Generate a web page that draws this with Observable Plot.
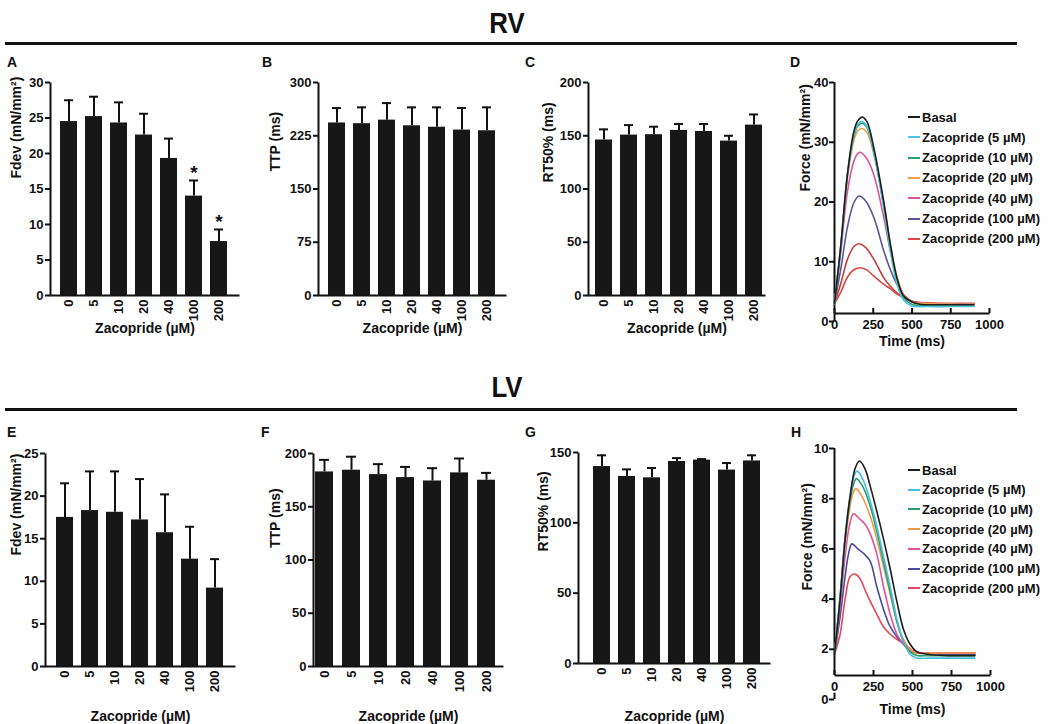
<!DOCTYPE html>
<html><head><meta charset="utf-8">
<script src="https://cdn.jsdelivr.net/npm/d3@7"></script>
<script src="https://cdn.jsdelivr.net/npm/@observablehq/plot@0.6"></script>
<style>
body{margin:0;background:#fff;}
#fig{position:relative;width:1050px;height:724px;overflow:hidden;font-family:"Liberation Sans",Arial,sans-serif;color:#111;background:#fff;}
.title{position:absolute;font-family:"Liberation Sans Narrow","Liberation Sans",Arial,sans-serif;font-weight:bold;font-size:30px;line-height:1;transform:translateX(-50%) scaleX(0.86);}
.hr{position:absolute;left:5px;width:1012px;height:3px;background:#111;}
.letter{position:absolute;font-weight:bold;font-size:14px;line-height:1;}
.panel{position:absolute;}
.panel svg{overflow:visible;max-width:none;}
.legend{position:absolute;font-weight:bold;font-size:13px;line-height:1;}
.legend .row{position:absolute;left:0;white-space:nowrap;display:flex;align-items:center;height:14px;}
.legend .sw{display:inline-block;width:12px;height:2px;margin-right:2px;}
</style></head>
<body>
<div id="fig">
  <div class="title" style="left:507px;top:8px">RV</div>
  <div class="hr" style="top:42px"></div>
  <div class="title" style="left:507px;top:372px">LV</div>
  <div class="hr" style="top:408px"></div>
  <div class="letter" style="left:7px;top:55px">A</div>
  <div class="letter" style="left:262px;top:55px">B</div>
  <div class="letter" style="left:525px;top:55px">C</div>
  <div class="letter" style="left:790px;top:55px">D</div>
  <div class="letter" style="left:7px;top:425px">E</div>
  <div class="letter" style="left:261px;top:425px">F</div>
  <div class="letter" style="left:525px;top:425px">G</div>
  <div class="letter" style="left:791px;top:425px">H</div>
</div>
<script>
// ---------- data ----------
const doses = ["0","5","10","20","40","100","200"];
const rvFdevMean = [24.5,25.2,24.3,22.6,19.3,14.0,7.6];
const rvFdevSem  = [3.0,2.8,2.9,3.0,2.8,2.2,1.7];
const rvFdevSig  = ["","","","","","*","*"];
const rvTtpMean  = [243,242,247,239,237,233,232];
const rvTtpSem   = [21,23,24,26,28,31,33];
const rvRt50Mean = [146,150.6,151,155,154,145,160];
const rvRt50Sem  = [10,9.4,7.5,6,7,5,10];
const lvFdevMean = [17.5,18.3,18.1,17.2,15.7,12.6,9.2];
const lvFdevSem  = [4.0,4.6,4.8,4.8,4.5,3.8,3.4];
const lvTtpMean  = [182.7,184.3,180.2,177.4,174.2,181.8,174.9];
const lvTtpSem   = [11.3,12.7,9.8,10,12,13.5,6.9];
const lvRt50Mean = [140,133,132,143.6,144.6,137.5,144];
const lvRt50Sem  = [8,5,7,2.4,0.7,5,4];

const rvFdevTicks = [0,5,10,15,20,25,30];
const rvTtpTicks = [0,75,150,225,300];
const rvRt50Ticks = [0,50,100,150,200];
const rvForceTicks = [0,10,20,30,40];
const lvFdevTicks = [0,5,10,15,20,25];
const lvTtpTicks = [0,50,100,150,200];
const lvRt50Ticks = [0,50,100,150];
const lvForceTicks = [0,2,4,6,8,10];
const timeTicks = [0,250,500,750,1000];

const seriesNames = ["Basal","Zacopride (5 µM)","Zacopride (10 µM)","Zacopride (20 µM)","Zacopride (40 µM)","Zacopride (100 µM)","Zacopride (200 µM)"];
const rvColors = ["#1e1e1e","#4cc6de","#2f9e78","#f0a04b","#d9569c","#5b5496","#d84a44","#c43c3c"];
const lvColors = ["#1e1e1e","#42bfe3","#2d9a6a","#f29a46","#e0529a","#4b4a9c","#e24a5c"];

// RV force traces [time ms, force mN/mm2]
const rvBasal = [[0,3],[40,12.5],[85,25],[125,31.8],[150,33.6],[180,34.2],[210,33.4],[254,29],[318,20],[360,13],[403,7.3],[445,4.3],[498,3.3],[550,2.9],[650,2.8],[750,2.8],[900,2.8]];
const rvZ5    = [[0,3],[40,12.5],[85,25],[125,31.3],[150,33],[175,33.5],[210,32.6],[254,28.3],[318,19],[360,11.8],[403,6.3],[445,3.6],[498,2.6],[600,2.5],[750,2.5],[900,2.5]];
const rvZ10   = [[0,3],[40,12.5],[85,24.8],[125,31],[150,32.7],[178,33.2],[210,32.4],[254,28.3],[318,19.3],[360,12.3],[403,6.8],[445,4],[498,2.9],[600,2.6],[750,2.6],[900,2.6]];
const rvZ20   = [[0,3],[40,12.2],[85,24.2],[125,30.3],[150,31.9],[178,32.3],[210,31.6],[254,28],[318,19.8],[360,13],[403,7.5],[445,4.5],[498,3.3],[600,3],[750,2.9],[900,2.9]];
const rvZ40   = [[0,3],[42,12],[85,22],[127,27],[150,28.1],[170,28.3],[210,27.2],[254,24.5],[318,17.4],[360,11.8],[403,7.3],[445,4.5],[498,3.3],[600,3],[750,2.9],[900,2.9]];
const rvZ100  = [[0,3],[42,9],[85,16],[127,20],[159,21],[200,20.2],[254,17.4],[318,11.8],[360,8.7],[403,6.2],[445,4.5],[498,3.4],[600,3],[750,2.9],[900,2.9]];
const rvZ200  = [[0,3],[42,5],[85,7.5],[127,8.7],[170,9],[210,8.6],[254,7.6],[318,6.2],[360,5.5],[403,4.6],[455,3.9],[508,3.3],[600,3.1],[750,3],[900,3]];
const rvZ200b = [[0,3],[42,6.5],[85,10.5],[127,12.6],[159,13],[200,12.4],[254,10.4],[318,7.3],[360,5.9],[403,4.8],[445,4],[508,3.3],[600,3.1],[750,3],[900,3]];

// LV force traces
const lvBasal = [[0,1.8],[36,4],[68,6.4],[100,8.1],[132,9.2],[160,9.5],[195,9.2],[229,8.5],[271,7.5],[314,6.4],[357,5.2],[400,3.9],[442,2.8],[485,2.2],[528,1.9],[600,1.8],[700,1.75],[800,1.75],[900,1.75]];
const lvZ5    = [[0,1.8],[36,4.1],[68,6.5],[100,8.1],[125,8.9],[145,9.1],[180,8.8],[229,7.9],[271,6.9],[314,5.7],[357,4.5],[400,3.2],[442,2.3],[485,1.8],[528,1.65],[600,1.65],[700,1.65],[800,1.65],[900,1.65]];
const lvZ10   = [[0,1.8],[36,4.1],[68,6.4],[100,7.95],[125,8.65],[140,8.8],[180,8.5],[229,7.7],[271,6.7],[314,5.5],[357,4.3],[400,3.1],[442,2.3],[485,1.9],[528,1.75],[600,1.75],[700,1.75],[800,1.75],[900,1.75]];
const lvZ20   = [[0,1.8],[36,4.0],[68,6.2],[100,7.7],[120,8.25],[137,8.4],[175,8.1],[229,7.3],[271,6.4],[314,5.3],[357,4.2],[400,3.1],[442,2.4],[485,2.0],[528,1.85],[600,1.85],[700,1.85],[800,1.85],[900,1.85]];
const lvZ40   = [[0,1.8],[36,3.7],[68,5.7],[95,6.9],[122,7.4],[160,7.2],[200,6.95],[229,6.6],[271,5.8],[314,4.5],[357,3.4],[400,2.6],[442,2.2],[485,1.95],[528,1.85],[600,1.85],[700,1.85],[800,1.85],[900,1.85]];
const lvZ100  = [[0,1.8],[36,3.3],[68,4.9],[90,5.8],[111,6.2],[150,6.0],[190,5.8],[229,5.5],[271,4.5],[314,3.6],[357,2.9],[400,2.5],[442,2.2],[485,1.95],[528,1.85],[600,1.85],[700,1.8],[800,1.8],[900,1.8]];
const lvZ200  = [[0,1.8],[36,2.6],[68,4.0],[100,4.9],[130,5.0],[160,4.85],[207,4.2],[271,3.4],[314,2.9],[357,2.6],[400,2.4],[453,2.2],[500,1.95],[550,1.85],[600,1.85],[700,1.85],[800,1.85],[900,1.85]];

// ---------- layout ----------
const FONT = '"Liberation Sans", Arial, sans-serif';
const L = {
  A:{left:0,top:70,w:250,h:275,mL:50,mR:11,mT:12,mB:50,b0:57.7,b1:229.5,ylx:-34,yly:-10.5,xly:33},
  B:{left:260,top:70,w:255,h:275,mL:58,mR:9,mT:12,mB:50,b0:65.7,b1:237,ylx:-43,yly:-17.5,xly:33},
  C:{left:520,top:70,w:255,h:275,mL:68,mR:10,mT:12,mB:50,b0:75,b1:242.7,ylx:-40,yly:-6.5,xly:33},
  E:{left:0,top:440,w:245,h:284,mL:45,mR:10,mT:13,mB:58,b0:53.3,b1:226,ylx:-28.5,yly:-4.5,xly:50},
  F:{left:260,top:440,w:250,h:284,mL:53,mR:7,mT:13,mB:58,b0:54.3,b1:236,ylx:-37.5,yly:-12,xly:50},
  G:{left:520,top:440,w:260,h:284,mL:58,mR:10,mT:12,mB:61,b0:71,b1:242.3,ylx:-34.5,yly:-6.5,xly:53},
  D:{left:780,top:70,w:230,h:285,mL:54,mR:21,mT:12,mB:42,y0:251,ylx:-29,yly:-6.5,xly:28,brk:false},
  H:{left:780,top:436,w:230,h:288,mL:54,mR:20,mT:12,mB:49,y0:263,ylx:-27,yly:28.5,xly:34,brk:true}
};
const fig = document.getElementById("fig");
function place(svg, c){
  const d = document.createElement("div");
  d.className = "panel";
  d.style.left = c.left+"px"; d.style.top = c.top+"px"; d.style.width = c.w+"px"; d.style.height = c.h+"px";
  d.appendChild(svg); fig.appendChild(d);
}
function baseStyle(){ return {fontFamily: FONT, fontWeight: "bold", fontSize: "13px", color: "#111", background: "transparent", overflow: "visible"}; }

function barPanel(c, means, sems, sig, ticks, ylabel){
  const data = doses.map((d,i)=>({c:d, m:means[i], hi:means[i]+sems[i], s: sig ? sig[i] : ""}));
  const fw = c.w-c.mL-c.mR, fh = c.h-c.mT-c.mB;
  const ymax = ticks[ticks.length-1];
  const svg = Plot.plot({
    width:c.w, height:c.h, marginLeft:c.mL, marginRight:c.mR, marginTop:c.mT, marginBottom:c.mB,
    style: baseStyle(),
    x:{type:"band", domain:doses, range:[c.b0,c.b1], paddingInner:0.33, paddingOuter:0, axis:null},
    y:{domain:[0,ymax], axis:null},
    marks:[
      Plot.ruleX(data,{x:"c", y1:"m", y2:"hi", stroke:"#111", strokeWidth:2}),
      Plot.tickY(data,{x:"c", y:"hi", stroke:"#111", strokeWidth:2, insetLeft:4, insetRight:4}),
      Plot.barY(data,{x:"c", y:"m", fill:"#171717"}),
      Plot.text(data,{x:"c", y:"hi", text:"s", lineAnchor:"bottom", dy:-1, fontSize:19, fill:"#111"}),
      Plot.frame({stroke:"#111", strokeWidth:2, strokeDasharray:`0 ${fw+fh} ${fw+fh}`}),
      Plot.axisY(ticks,{tickSize:5, tickPadding:2, strokeWidth:2, label:null, fontSize:13}),
      Plot.axisX(doses,{tickSize:0, tickRotate:-90, tickPadding:4, label:null, fontSize:13}),
      Plot.text([ylabel],{text:d=>d, frameAnchor:"left", rotate:-90, lineAnchor:"middle", dx:c.ylx, dy:c.yly, fontSize:14}),
      Plot.text(["Zacopride (µM)"],{text:d=>d, frameAnchor:"bottom", lineAnchor:"middle", dy:c.xly, fontSize:14})
    ]
  });
  place(svg,c);
}

function tracePanel(c, traces, colors, ticks, ylabel, legendTop, legendStep){
  const rows = [];
  for (let si = traces.length-1; si >= 0; si--) traces[si].forEach(([t,f]) => rows.push({t, f, s:si, col:colors[si]}));
  const fw = c.w-c.mL-c.mR, fh = c.h-c.mT-c.mB;
  const ymax = ticks[ticks.length-1];
  const bottomVal = (c.y0-(c.h-c.mB))/(c.y0-c.mT)*ymax;
  const marks = [
    Plot.frame({stroke:"#111", strokeWidth:2, strokeDasharray:`0 ${fw+fh} ${fw} ${fh}`}),
    Plot.ruleX([0],{y1: c.brk ? bottomVal : 0, y2: ymax, stroke:"#111", strokeWidth:2}),
    Plot.axisY(ticks,{tickSize:5, tickPadding:1, strokeWidth:2, label:null, fontSize:13}),
    Plot.axisX(timeTicks,{tickSize:-5, tickPadding:11, strokeWidth:2, label:null, fontSize:13, tickFormat:d=>String(d)}),
    Plot.line(rows,{x:"t", y:"f", z:"s", stroke:"col", curve:"catmull-rom", strokeWidth:1.6}),
    Plot.text([ylabel],{text:d=>d, frameAnchor:"left", rotate:-90, lineAnchor:"middle", dx:c.ylx, dy:c.yly, fontSize:14}),
    Plot.text(["Time (ms)"],{text:d=>d, frameAnchor:"bottom", lineAnchor:"middle", dy:c.xly, fontSize:14})
  ];
  if (c.brk) marks.push(Plot.ruleX([0],{y1:0, y2:ymax*0.025, stroke:"#111", strokeWidth:2}));
  const svg = Plot.plot({
    width:c.w, height:c.h, marginLeft:c.mL, marginRight:c.mR, marginTop:c.mT, marginBottom:c.mB,
    style: baseStyle(),
    x:{domain:[0,1000], axis:null},
    y:{domain:[0,ymax], range:[c.y0, c.mT], axis:null},
    marks
  });
  place(svg,c);
  const lg = document.createElement("div");
  lg.className = "legend";
  lg.style.left = "908px"; lg.style.top = legendTop+"px";
  seriesNames.forEach((n,i)=>{
    const r = document.createElement("div");
    r.className = "row"; r.style.top = (i*legendStep - 7)+"px";
    const sw = document.createElement("span"); sw.className = "sw"; sw.style.background = colors[i];
    const tx = document.createElement("span"); tx.textContent = n;
    r.appendChild(sw); r.appendChild(tx); lg.appendChild(r);
  });
  fig.appendChild(lg);
}

barPanel(L.A, rvFdevMean, rvFdevSem, rvFdevSig, rvFdevTicks, "Fdev (mN/mm²)");
barPanel(L.B, rvTtpMean, rvTtpSem, null, rvTtpTicks, "TTP (ms)");
barPanel(L.C, rvRt50Mean, rvRt50Sem, null, rvRt50Ticks, "RT50% (ms)");
tracePanel(L.D, [rvBasal,rvZ5,rvZ10,rvZ20,rvZ40,rvZ100,rvZ200,rvZ200b], rvColors, rvForceTicks, "Force (mN/mm²)", 117, 20.3);
barPanel(L.E, lvFdevMean, lvFdevSem, null, lvFdevTicks, "Fdev (mN/mm²)");
barPanel(L.F, lvTtpMean, lvTtpSem, null, lvTtpTicks, "TTP (ms)");
barPanel(L.G, lvRt50Mean, lvRt50Sem, null, lvRt50Ticks, "RT50% (ms)");
tracePanel(L.H, [lvBasal,lvZ5,lvZ10,lvZ20,lvZ40,lvZ100,lvZ200], lvColors, lvForceTicks, "Force (mN/mm²)", 470, 19.7);
</script>
</body></html>
